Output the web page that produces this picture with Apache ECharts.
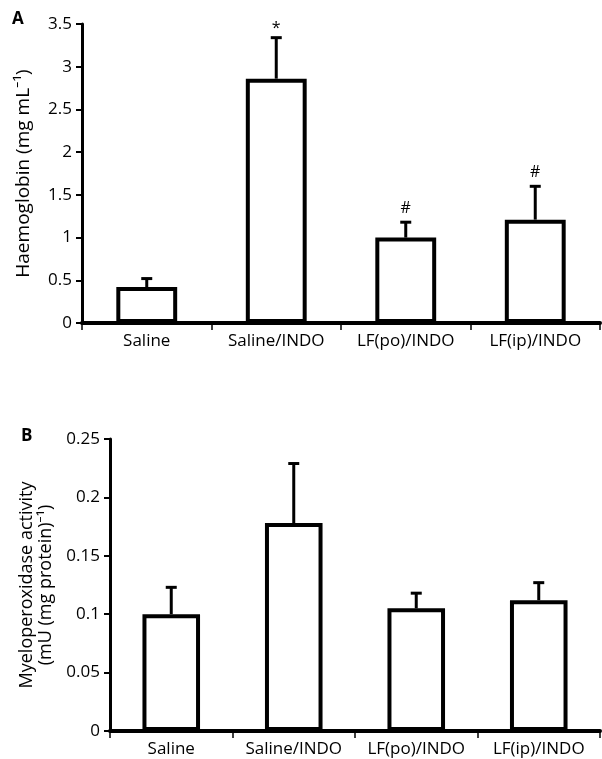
<!DOCTYPE html>
<html><head><meta charset="utf-8">
<script src="https://cdn.jsdelivr.net/npm/echarts@6/dist/echarts.min.js"></script>
<style>html,body{margin:0;padding:0;background:#fff}#c{width:602px;height:759px}</style>
</head><body><div id="c"></div>
<script>
const categories = ['Saline', 'Saline/INDO', 'LF(po)/INDO', 'LF(ip)/INDO'];
const haemoglobin = [0.42, 2.86, 1.0, 1.21];
const haemoglobinErrTop = [0.52, 3.34, 1.18, 1.60];
const haemoglobinMarks = ['', '*', '#', '#'];
const mpo = [0.1, 0.178, 0.105, 0.112];
const mpoErrTop = [0.123, 0.229, 0.118, 0.127];
const mpoMarks = ['', '', '', ''];
const ticksA = { min: 0, max: 3.5, interval: 0.5 };
const ticksB = { min: 0, max: 0.25, interval: 0.05 };

const FONT = '"Open Sans", "Noto Sans", sans-serif';
const MARK_GAP = { '*': 9, '#': 14 };
const chart = echarts.init(document.getElementById('c'));

function errRender(marks) {
  return function (params, api) {
    const i = api.value(0);
    const base = api.coord([i, api.value(1)]);
    const top = api.coord([i, api.value(2)]);
    const cap = 5.5;
    const children = [
      { type: 'line', shape: { x1: base[0], y1: base[1], x2: top[0], y2: top[1] }, style: { stroke: '#000', lineWidth: 3 } },
      { type: 'line', shape: { x1: top[0] - cap, y1: top[1], x2: top[0] + cap, y2: top[1] }, style: { stroke: '#000', lineWidth: 3 } }
    ];
    const m = marks[params.dataIndex];
    if (m) {
      children.push({ type: 'text', style: { text: m, x: top[0], y: top[1] - (MARK_GAP[m] || 12), align: 'center', verticalAlign: 'middle', fill: '#000', font: '16px ' + FONT } });
    }
    return { type: 'group', children };
  };
}

function xAxisCfg(gi) {
  return {
    type: 'category', gridIndex: gi, data: categories, boundaryGap: true,
    axisLine: { lineStyle: { color: '#000', width: 4 } },
    axisTick: { show: true, length: 7, lineStyle: { color: '#000', width: 1.5 } },
    axisLabel: { color: '#000', fontSize: 17, fontFamily: FONT, margin: 10, interval: 0 },
    splitLine: { show: false }
  };
}
function yAxisCfg(gi, t, name, gap, nameSize) {
  return {
    type: 'value', gridIndex: gi, min: t.min, max: t.max, interval: t.interval,
    name: name, nameLocation: 'middle', nameGap: gap, nameRotate: 90,
    nameTextStyle: { color: '#000', fontSize: nameSize, fontFamily: FONT, lineHeight: 19 },
    axisLine: { show: true, lineStyle: { color: '#000', width: 3 } },
    axisTick: { show: true, length: 6, lineStyle: { color: '#000', width: 2 } },
    axisLabel: { color: '#000', fontSize: 17, fontFamily: FONT, margin: 10 },
    splitLine: { show: false }
  };
}

chart.setOption({
  animation: false,
  backgroundColor: '#fff',
  grid: [
    { left: 82, right: 2, top: 24, bottom: 436 },
    { left: 110, right: 2, top: 439, bottom: 28 }
  ],
  xAxis: [xAxisCfg(0), xAxisCfg(1)],
  yAxis: [
    yAxisCfg(0, ticksA, 'Haemoglobin (mg mL\u207B\u00B9)', 49, 19),
    yAxisCfg(1, ticksB, 'Myeloperoxidase activity\n(mU (mg protein)\u207B\u00B9)', 55, 18)
  ],
  graphic: [
    { type: 'text', left: 12, top: 11, style: { text: 'A', font: 'bold 17px ' + FONT, fill: '#000' } },
    { type: 'text', left: 21, top: 428, style: { text: 'B', font: 'bold 17px ' + FONT, fill: '#000' } }
  ],
  series: [
    { type: 'bar', xAxisIndex: 0, yAxisIndex: 0, data: haemoglobin, barWidth: '47%',
      itemStyle: { color: '#fff', borderColor: '#000', borderWidth: 4 } },
    { type: 'custom', xAxisIndex: 0, yAxisIndex: 0, renderItem: errRender(haemoglobinMarks),
      encode: { x: 0, y: [1, 2] }, z: 3,
      data: categories.map((c, i) => [i, haemoglobin[i], haemoglobinErrTop[i]]) },
    { type: 'bar', xAxisIndex: 1, yAxisIndex: 1, data: mpo, barWidth: '47%',
      itemStyle: { color: '#fff', borderColor: '#000', borderWidth: 4 } },
    { type: 'custom', xAxisIndex: 1, yAxisIndex: 1, renderItem: errRender(mpoMarks),
      encode: { x: 0, y: [1, 2] }, z: 3,
      data: categories.map((c, i) => [i, mpo[i], mpoErrTop[i]]) }
  ]
});
</script>
</body></html>
